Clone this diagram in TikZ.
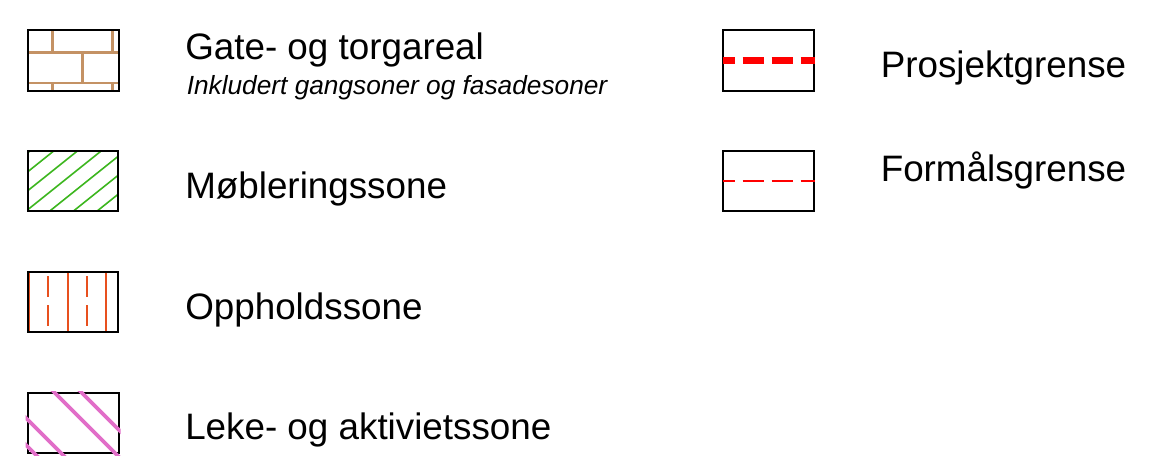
\documentclass[tikz,border=0pt]{standalone}
\usepackage{fontspec}
\setmainfont{Liberation Sans}
\definecolor{brickcol}{RGB}{196,146,100}
\definecolor{hatchgreen}{RGB}{60,182,30}
\definecolor{stayred}{RGB}{232,80,30}
\definecolor{playpink}{RGB}{225,110,200}
\begin{document}
\begin{tikzpicture}[x=0.75pt,y=-0.75pt,
  frame/.style={draw=black,line width=1.5pt},
  brickline/.style={draw=brickcol,line width=1.6pt},
  greenhatch/.style={draw=hatchgreen,line width=1.2pt},
  staylines/.style={draw=stayred,line width=1.4pt},
  pinkhatch/.style={draw=playpink,line width=2.7pt,line cap=round},
  projline/.style={draw=red,line width=5.2pt,dash pattern=on 15.75pt off 6pt,dash phase=6.75pt},
  purpline/.style={draw=red,line width=1.1pt,dash pattern=on 15.75pt off 6pt,dash phase=6.75pt},
  lbl/.style={anchor=base west,inner sep=0pt,font=\fontsize{27.6}{33}\selectfont},
  sublbl/.style={anchor=base west,inner sep=0pt,font=\fontsize{19.7}{24}\selectfont\itshape}]
\useasboundingbox (0,0) rectangle (1158,471);

% Box 1: bricks
\begin{scope}
  \clip (27.5,29.5) rectangle (119,90.5);
  \draw[brickline] (27.5,52.5) -- (119,52.5) (27.5,83) -- (119,83)
    (52.5,29.5) -- (52.5,52.5) (112.5,29.5) -- (112.5,52.5)
    (82.5,52.5) -- (82.5,83)
    (52.5,83) -- (52.5,90.5) (112.5,83) -- (112.5,90.5);
\end{scope}
\draw[frame] (27.5,29.5) rectangle (119,90.5);

% Box 2: green hatch
\begin{scope}
  \clip (27.5,151) rectangle (118,211);
  \foreach \k in {-4,...,7}
    \draw[greenhatch] ({30+23.7*\k-100},231) -- ({30+23.7*\k+100},71);
\end{scope}
\draw[frame] (27.5,151) rectangle (118,211);

% Box 3: stay zone
\draw[staylines] (29.5,272) -- (29.5,332) (67.7,272) -- (67.7,332) (105.7,272) -- (105.7,332)
  (48.3,276) -- (48.3,297) (48.3,305) -- (48.3,326)
  (86.7,276) -- (86.7,297) (86.7,305) -- (86.7,326);
\draw[frame] (28,272) rectangle (118,332);

% Box 4: pink hatch
\draw[frame] (27.5,393) rectangle (118.5,453);
\begin{scope}
  \clip (25.5,391) rectangle (120.5,455);
  \foreach \c in {-311,-338,-392,-419}
    \draw[pinkhatch] ({\c+370},370) -- ({\c+480},480);
\end{scope}

% Box 5: project boundary
\draw[frame] (723,30) rectangle (814,91);
\draw[projline] (722.5,60.5) -- (815,60.5);

% Box 6: purpose boundary
\draw[frame] (723,151) rectangle (814,211);
\draw[purpline] (722.5,181) -- (815,181);

% Labels
\node[lbl] (gate) at (185,59) {Gate- og torgareal};
\node[sublbl] (gatesub) at (186.5,94.5) {Inkludert gangsoner og fasadesoner};
\node[lbl] (mob) at (185,198.5) {Møbleringssone};
\node[lbl] (opp) at (185,319.5) {Oppholdssone};
\node[lbl] (leke) at (185,439.5) {Leke- og aktivietssone};
\node[lbl] (pros) at (880.5,77.5) {Prosjektgrense};
\node[lbl] (form) at (880.5,181.5) {Formålsgrense};
\end{tikzpicture}
\end{document}
